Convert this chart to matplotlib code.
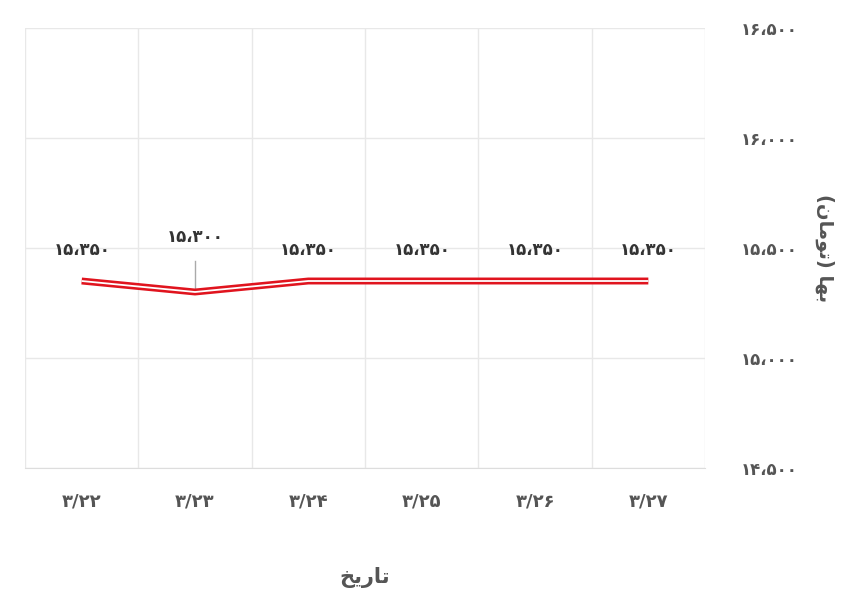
import matplotlib
matplotlib.use("Agg")
import matplotlib.pyplot as plt
import numpy as np

FA = str.maketrans("0123456789", "۰۱۲۳۴۵۶۷۸۹")

dates = ["3/22", "3/23", "3/24", "3/25", "3/26", "3/27"]
prices = [15350, 15300, 15350, 15350, 15350, 15350]
yticks = [14500, 15000, 15500, 16000, 16500]


def fa_num(v):
    return f"{v:,}".replace(",", "\u060c").translate(FA)


plt.rcParams["font.family"] = ["DejaVu Sans"]
fig = plt.figure(figsize=(8.6, 5.97), dpi=100)
ax = fig.add_axes([25 / 860, 1 - 468 / 597, 680 / 860, 440 / 597])

x = np.arange(len(dates))
ax.plot(x, prices, color="#e0141e", lw=5, solid_joinstyle="miter",
        solid_capstyle="butt", zorder=3)
ax.plot(x, prices, color="white", lw=1.3, solid_joinstyle="miter",
        solid_capstyle="butt", zorder=4)

for xi, p in zip(x, prices):
    if p < 15350:
        ax.plot([xi, xi], [p + 15, p + 140], color="#aaaaaa", lw=1, zorder=2)
        ax.text(xi, p + 210, fa_num(p), ha="center", va="bottom", fontsize=12,
                fontweight="bold", color="#333333")
    else:
        ax.text(xi, p + 100, fa_num(p), ha="center", va="bottom", fontsize=12,
                fontweight="bold", color="#333333")

ax.set_xlim(-0.5, len(dates) - 0.5)
ax.set_ylim(14500, 16500)
ax.set_xticks(x)
ax.set_xticklabels([d.translate(FA) for d in dates], fontsize=13,
                   fontweight="bold", color="#555555")
ax.set_xticks(np.arange(-0.5, len(dates)), minor=True)
ax.set_yticks(yticks)
ax.set_yticklabels([fa_num(v) for v in yticks], fontsize=12,
                   fontweight="bold", color="#555555")
ax.yaxis.tick_right()
ax.tick_params(axis="both", which="both", length=0, pad=18)
ax.tick_params(axis="y", pad=26)
ax.grid(True, which="minor", axis="x", color="#e8e8e8", lw=1)
ax.grid(True, which="major", axis="y", color="#e8e8e8", lw=1)
for s in ["top", "left", "right"]:
    ax.spines[s].set_visible(False)
ax.spines["bottom"].set_color("#dddddd")

ax.set_xlabel("\uFEA6\uFBFE\uFEAD\uFE8E\uFE97", fontsize=15, fontweight="bold",
              color="#555555", labelpad=40)
ax.yaxis.set_label_position("right")
ax.set_ylabel("(\uFEE5\uFE8E\uFEE3\uFEEE\uFE97) \uFE8E\uFEEC\uFE91", fontsize=14,
              fontweight="bold", color="#555555", rotation=270, labelpad=26)

fig.savefig("out.png", dpi=100)
